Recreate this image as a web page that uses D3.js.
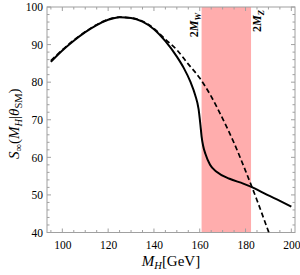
<!DOCTYPE html>
<html>
<head>
<meta charset="utf-8">
<script src="https://cdn.jsdelivr.net/npm/d3@7"></script>
<style>
    body { margin: 0; background: #fff; }
    svg text { font-family: "Liberation Serif", "DejaVu Serif", serif; }
</style>
</head>
<body>
<div id="chart"></div>
<script>
// Higgs mass (GeV) and S_inf values
const solidMass = [95, 100, 105, 110, 115, 120, 125, 130, 135, 140, 145, 150, 153, 156, 158, 159.5, 160.3, 160.8, 161.5, 162.5, 164.5, 167.5, 173, 179, 183, 189.5, 195, 200];
const solidValue = [85.4, 88.4, 91.0, 93.3, 95.2, 96.6, 97.3, 97.1, 96.1, 94.1, 90.9, 86.8, 83.8, 80.0, 76.6, 72.8, 68.6, 65.6, 63.0, 60.9, 58.0, 56.1, 54.3, 53.0, 52.0, 50.0, 48.4, 46.9];
const dashedMass = [95, 100, 105, 110, 115, 120, 125, 130, 135, 140, 145, 150, 155, 160, 165, 170, 175, 180, 185, 190, 192];
const dashedValue = [85.7, 88.6, 91.2, 93.4, 95.3, 96.7, 97.3, 97.1, 96.2, 94.3, 91.4, 88.6, 84.8, 81.1, 76.2, 70.3, 63.8, 56.4, 48.6, 40.3, 37.0];
// shaded band between 2 M_W and 2 M_Z
const bandEdges = [160.8, 182.4];
const xTicks = [100, 120, 140, 160, 180, 200];
const yTicks = [40, 50, 60, 70, 80, 90, 100];

const width = 300;
const height = 275;
const margin = { top: 7, right: 5, bottom: 42.5, left: 47 };
const chartWidth = width - margin.left - margin.right;
const chartHeight = height - margin.top - margin.bottom;

const svg = d3.select("#chart").append("svg")
    .attr("width", width)
    .attr("height", height);

const x = d3.scaleLinear()
    .domain([93.3, 201.6])
    .range([0, chartWidth]);

const y = d3.scaleLinear()
    .domain([40, 100])
    .range([chartHeight, 0]);

const chartArea = svg.append("g")
    .attr("transform", `translate(${margin.left}, ${margin.top})`);

chartArea.append("clipPath")
    .attr("id", "plot-clip")
    .append("rect")
    .attr("width", chartWidth)
    .attr("height", chartHeight);

chartArea.append("rect")
    .attr("x", x(bandEdges[0]))
    .attr("y", 0)
    .attr("width", x(bandEdges[1]) - x(bandEdges[0]))
    .attr("height", chartHeight)
    .attr("fill", "#ffadad");

// frame ticks on all four sides, pointing inwards
const xMinor = d3.range(95, 201, 5);
const yMinor = d3.range(40, 101, 2);
const frame = chartArea.append("g").attr("stroke", "#a0a0a0").attr("stroke-width", 1);

xMinor.forEach(v => {
    const len = v % 20 === 0 ? 4 : 2.5;
    frame.append("line").attr("x1", x(v)).attr("x2", x(v)).attr("y1", chartHeight).attr("y2", chartHeight - len);
    frame.append("line").attr("x1", x(v)).attr("x2", x(v)).attr("y1", 0).attr("y2", len);
});
yMinor.forEach(v => {
    const len = v % 10 === 0 ? 4 : 2.5;
    frame.append("line").attr("x1", 0).attr("x2", len).attr("y1", y(v)).attr("y2", y(v));
    frame.append("line").attr("x1", chartWidth).attr("x2", chartWidth - len).attr("y1", y(v)).attr("y2", y(v));
});

frame.append("rect")
    .attr("width", chartWidth)
    .attr("height", chartHeight)
    .attr("fill", "none");

const xAxis = chartArea.append("g")
    .attr("transform", `translate(0, ${chartHeight})`)
    .call(d3.axisBottom(x).tickValues(xTicks).tickSize(0).tickPadding(8));
const yAxis = chartArea.append("g")
    .call(d3.axisLeft(y).tickValues(yTicks).tickSize(0).tickPadding(4));

[xAxis, yAxis].forEach(axis => {
    axis.select(".domain").remove();
    axis.selectAll("text")
        .attr("fill", "#000")
        .style("font-family", "Liberation Serif, serif")
        .style("font-size", "11.5px");
});

const line = d3.line()
    .x(d => x(d[0]))
    .y(d => y(d[1]))
    .curve(d3.curveMonotoneX);

const curves = chartArea.append("g").attr("clip-path", "url(#plot-clip)");

curves.append("path")
    .attr("d", line(d3.zip(dashedMass, dashedValue)))
    .attr("fill", "none")
    .attr("stroke", "#000")
    .attr("stroke-width", 1.7)
    .attr("stroke-dasharray", "5,3");

curves.append("path")
    .attr("d", line(d3.zip(solidMass, solidValue)))
    .attr("fill", "none")
    .attr("stroke", "#000")
    .attr("stroke-width", 2);

// band labels, written upwards
function bandLabel(xPos, yTop, sub) {
    const t = chartArea.append("text")
        .attr("transform", `translate(${xPos}, ${yTop}) rotate(-90)`)
        .attr("text-anchor", "end")
        .style("font-size", "12px")
        .style("font-weight", "bold");
    t.append("tspan").text("2");
    t.append("tspan").style("font-style", "italic").text("M");
    t.append("tspan").attr("dy", 3).style("font-size", "8.5px").style("font-style", "italic").text(sub);
}
bandLabel(x(bandEdges[0]) - 4, 6, "W");
bandLabel(x(bandEdges[1]) + 10, 3, "Z");

// axis titles
const xTitle = svg.append("text")
    .attr("x", margin.left + chartWidth / 2)
    .attr("y", 266)
    .attr("text-anchor", "middle")
    .style("font-size", "15px");
xTitle.append("tspan").style("font-style", "italic").text("M");
xTitle.append("tspan").attr("dy", 3).style("font-size", "10.5px").style("font-style", "italic").text("H");
xTitle.append("tspan").attr("dy", -3).text("[GeV]");

const yTitle = svg.append("text")
    .attr("transform", `translate(19, ${margin.top + chartHeight / 2 + 4}) rotate(-90)`)
    .attr("text-anchor", "middle")
    .style("font-size", "15px");
yTitle.append("tspan").style("font-style", "italic").text("S");
yTitle.append("tspan").attr("dy", 3).style("font-size", "10.5px").text("∞");
yTitle.append("tspan").attr("dy", -3).text("(");
yTitle.append("tspan").style("font-style", "italic").text("M");
yTitle.append("tspan").attr("dy", 3).style("font-size", "10.5px").style("font-style", "italic").text("H");
yTitle.append("tspan").attr("dy", -3).text("|");
yTitle.append("tspan").style("font-style", "italic").text("θ");
yTitle.append("tspan").attr("dy", 3).style("font-size", "10.5px").text("SM");
yTitle.append("tspan").attr("dy", -3).text(")");
</script>
</body>
</html>
